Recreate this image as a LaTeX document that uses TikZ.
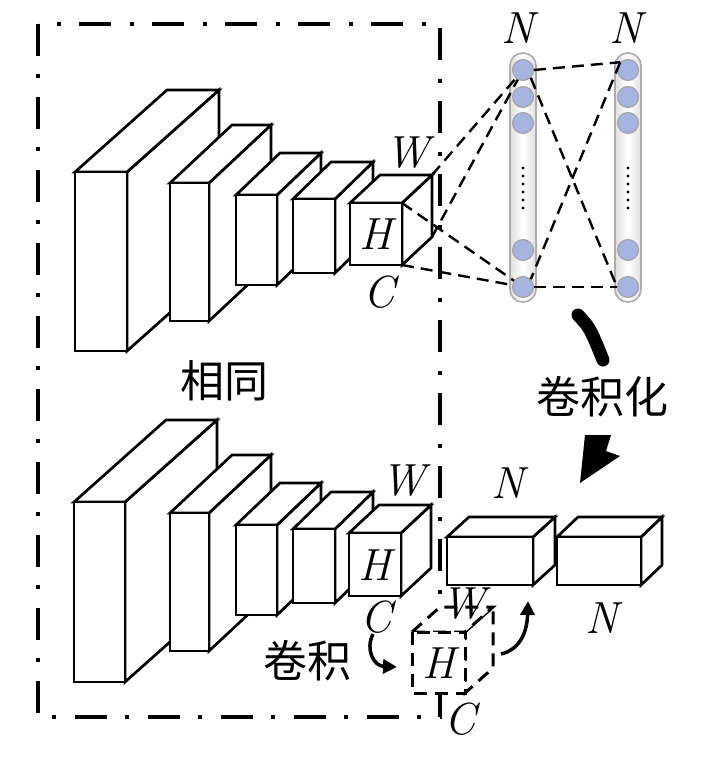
\documentclass[tikz,border=0pt]{standalone}
\usepackage{fontspec}
\usetikzlibrary{arrows.meta,calc}
\newfontfamily\cjk{Noto Sans CJK SC}
\newcommand\blk[7][]{%
 \filldraw[blockline,#1] (#4,#3) -- ++(#6,#7) -- ++(0,{#5-#3}) -- (#4,#5) -- cycle;
 \filldraw[blockline,#1] (#2,#3) -- ++(#6,#7) -- ++({#4-#2},0) -- (#4,#3) -- cycle;
 \filldraw[blockline,#1] (#2,#3) rectangle (#4,#5);
}
\tikzset{
 blockline/.style={draw=black,fill=white,line width=2.7pt,line join=miter},
 dashcube/.style={dash pattern=on 13pt off 8pt,line width=3pt},
 frame/.style={line width=3.5pt,dash pattern=on 32pt off 18pt on 4pt off 19pt},
 neuron/.style={circle,minimum size=21pt,inner sep=0pt,fill={rgb,255:red,165;green,180;blue,222},draw=gray!75,line width=1pt},
 capsule/.style={rounded corners=12.5pt,draw=gray!65,line width=1.6pt,left color=gray!25,right color=gray!25,middle color=white},
 link/.style={line width=2.4pt,dash pattern=on 12pt off 7pt},
 lbl/.style={font=\fontsize{45}{50}\selectfont\itshape,inner sep=0pt},
 cjklbl/.style={font=\fontsize{44}{48}\selectfont\cjk,inner sep=0pt},
 curvarrow/.style={line width=3.5pt,-{Triangle[length=14pt,width=14pt]}},
}
\begin{document}
\begin{tikzpicture}[x=1pt,y=-1pt]
\useasboundingbox (0,0) rectangle (713,757);
\fill[white] (0,0) rectangle (713,757);
% frame
\draw[frame] (38,24) rectangle (440,717);
% top row
\blk{75}{172}{127}{351}{92}{-82}
\blk{170}{183}{209}{321}{62}{-58}
\blk{236}{195}{277}{285}{44}{-42}
\blk{293}{199}{335}{273}{38}{-37}
\blk{350}{203}{402}{265}{30}{-28}
\node[lbl] (hT) at (376,234) {H};
\node[lbl] (wT) at (407,153) {W};
\node[lbl] (cT) at (379,292) {C};
\coordinate (FTR) at (402,203);
\coordinate (FBR) at (402,265);
\coordinate (BTR) at (432,175);
\coordinate (BBR) at (432,237);
% bottom row
\begin{scope}[shift={(0,330)}]
\blk{74}{172}{125}{352}{92}{-82}
\blk{170}{183}{209}{321}{62}{-58}
\blk{236}{195}{277}{285}{44}{-42}
\blk{293}{199}{335}{273}{38}{-37}
\blk{349}{203}{401}{266}{30}{-28}
\end{scope}
\node[lbl] (hB) at (375,565) {H};
\node[lbl] (wB) at (403,481) {W};
\node[lbl] (cB) at (376,617) {C};
% N boxes
\blk{447}{537}{533}{585}{22}{-20}
\blk{557}{537}{641}{585}{21}{-20}
\node[lbl] (nB1) at (508,483) {N};
\node[lbl] (nB2) at (602,618) {N};
% dashed cube
\blk[dashcube]{412}{632}{465}{693}{28}{-25}
\node[lbl] (hD) at (439,663) {H};
\node[lbl] (wD) at (463,604) {W};
\node[lbl] (cD) at (460,719) {C};
% neuron columns
\draw[capsule] (510,53) rectangle (536,302);
\draw[capsule] (615,53) rectangle (641,302);
\foreach \c/\x in {1/523,2/628}{
 \node[neuron] (n\c1) at (\x,70) {};
 \node[neuron] (n\c2) at (\x,97) {};
 \node[neuron] (n\c3) at (\x,123) {};
 \node[neuron] (n\c4) at (\x,250) {};
 \node[neuron] (n\c5) at (\x,287) {};
 \foreach \yy in {168,176,184,192,200,208}{\fill (\x,\yy) circle (1.7pt);}
}
\node[lbl] (nT1) at (518,28) {N};
\node[lbl] (nT2) at (626,28) {N};
% links
\draw[link] (BTR) -- (n11);
\draw[link] (BBR) -- (n11);
\draw[link] (FTR) -- (n15);
\draw[link] (FBR) -- (n15);
\draw[link] (n11.east) -- (n21.north west);
\draw[link] (n11.south east) -- (n25.west);
\draw[link] (n21.north west) -- (n15.north east);
\draw[link] (n15.east) -- (n25.west);
% labels
\node[cjklbl] (same) at (224,381) {相同};
\node[cjklbl] (convz) at (602,397) {卷积化};
\node[cjklbl] (conv) at (307,661) {卷积};
% big arrow
\coordinate (bA) at (578,315);
\coordinate (bB) at (603,360);
\draw[line width=13pt,line cap=round] (bA) .. controls (590,328) .. (bB);
\fill (585,435) -- (611,435) -- (606,451) -- (620,456) -- (580,483) -- cycle;
% small arrows
\coordinate (s1a) at (373,634);
\coordinate (s1b) at (397,667);
\draw[curvarrow] (s1a) .. controls (365,650) and (374,666) .. (s1b);
\coordinate (s2a) at (501,654);
\coordinate (s2b) at (528,601);
\draw[curvarrow] (s2a) .. controls (518,650) and (527,635) .. (s2b);
\end{tikzpicture}
\end{document}
